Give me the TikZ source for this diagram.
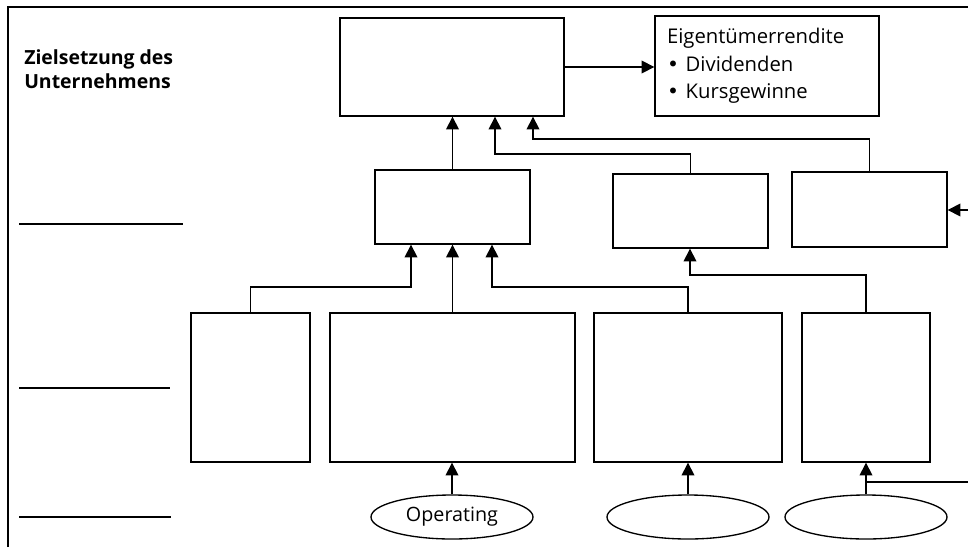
\documentclass[tikz,border=0pt]{standalone}
\usepackage{fontspec}
\setmainfont{Open Sans}
\newfontfamily\bulfont{DejaVu Sans}
\usetikzlibrary{arrows.meta,shapes.geometric}
\newcommand{\mybul}{{\bulfont •}}
\begin{document}
\begin{tikzpicture}[x=0.75pt,y=-0.75pt,
  box/.style={draw=black,line width=1pt,inner sep=0pt,fill=white},
  oval/.style={draw=black,line width=1pt,ellipse,inner sep=0pt,minimum width=121.5pt,minimum height=33pt,font=\fontsize{14.8}{17}\selectfont},
  arr/.style={draw=black,line width=1pt,-{Triangle[length=9.5pt,width=9.5pt]}},
  plain/.style={draw=black,line width=1pt},
  frame/.style={draw=black,line width=1.5pt}]
\useasboundingbox (0,0) rectangle (968,547);
% frame and level lines
\draw[frame] (8,547) -- (8,7) -- (968,7);
\draw[frame] (19,224) -- (183,224);
\draw[frame] (19,388) -- (170,388);
\draw[frame] (19,517) -- (171,517);
% label
\node[anchor=north west,inner sep=0pt,align=left,font=\bfseries\fontsize{14.6}{18}\selectfont] (ziel) at (24,49) {Zielsetzung des\\Unternehmens};
% boxes
\node[box,minimum width=168pt,minimum height=73.5pt] (top) at (452,67) {};
\node[box,minimum width=168pt,minimum height=75pt,align=left,text width=150pt,inner xsep=9pt,font=\fontsize{15.2}{20.5}\selectfont] (eigen) at (767,66) {Eigentümerrendite\\\mybul{} Dividenden\\\mybul{} Kursgewinne};
\node[box,minimum width=116.25pt,minimum height=55.5pt] (m1) at (452.5,207) {};
\node[box,minimum width=116.25pt,minimum height=55.5pt] (m2) at (690.5,211) {};
\node[box,minimum width=116.25pt,minimum height=56.25pt] (m3) at (869.5,209.5) {};
\node[box,minimum width=89.25pt,minimum height=111.75pt] (b1) at (250.5,387.5) {};
\node[box,minimum width=183.75pt,minimum height=111.75pt] (b2) at (452.5,387.5) {};
\node[box,minimum width=141pt,minimum height=111.75pt] (b3) at (688,387.5) {};
\node[box,minimum width=96pt,minimum height=111.75pt] (b4) at (866,387.5) {};
\node[oval] (e1) at (452,517) {Operating};
\node[oval] (e2) at (688,517) {};
\node[oval] (e3) at (866,517) {};
% junction coordinates
\coordinate (j1) at (495,154);
\coordinate (j2) at (533,139);
\coordinate (j3) at (411,287);
\coordinate (j4) at (492,287);
\coordinate (j5) at (690,275);
\coordinate (inR) at (968,210);
\coordinate (inR2) at (968,482);
% connectors
\draw[arr] (top.east) -- (top.east -| eigen.west);
\draw[arr] (m1.north) -- (m1.north |- top.south);
\draw[arr] (m2.north) |- (j1) -- (j1 |- top.south);
\draw[arr] (m3.north) |- (j2) -- (j2 |- top.south);
\draw[arr] (inR) -- (inR -| m3.east);
\draw[arr] (b1.north) |- (j3) -- (j3 |- m1.south);
\draw[arr] (b2.north) -- (b2.north |- m1.south);
\draw[arr] (b3.north) |- (j4) -- (j4 |- m1.south);
\draw[arr] (b4.north) |- (j5) -- (j5 |- m2.south);
\draw[arr] (e1.north) -- (e1.north |- b2.south);
\draw[arr] (e2.north) -- (e2.north |- b3.south);
\draw[arr] (e3.north) -- (e3.north |- b4.south);
\draw[plain] (inR2) -- (inR2 -| e3.north);
\end{tikzpicture}
\end{document}
